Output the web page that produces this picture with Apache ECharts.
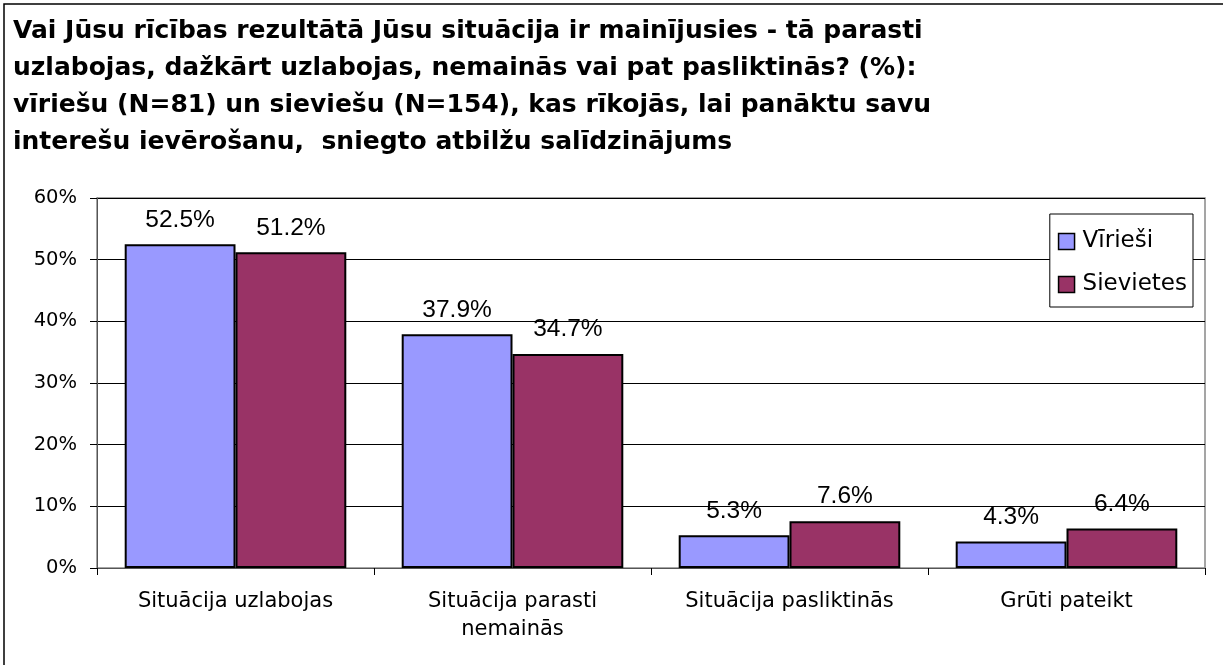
<!DOCTYPE html>
<html>
<head>
<meta charset="utf-8">
<script src="https://cdn.jsdelivr.net/npm/echarts@6/dist/echarts.min.js"></script>
<style>
  html, body { margin: 0; padding: 0; background: #fff; }
  #chart { width: 1223px; height: 665px; }
</style>
</head>
<body>
<div id="chart"></div>
<script>
const categories = ['Situācija uzlabojas', 'Situācija parasti\nnemainās', 'Situācija pasliktinās', 'Grūti pateikt'];
const seriesNames = ['Vīrieši', 'Sievietes'];
const viriesi = [52.5, 37.9, 5.3, 4.3];
const sievietes = [51.2, 34.7, 7.6, 6.4];
const yTicks = [0, 10, 20, 30, 40, 50, 60];

const titleText = 'Vai Jūsu rīcības rezultātā Jūsu situācija ir mainījusies - tā parasti\n' +
  'uzlabojas, dažkārt uzlabojas, nemainās vai pat pasliktinās? (%):\n' +
  'vīriešu (N=81) un sieviešu (N=154), kas rīkojās, lai panāktu savu\n' +
  'interešu ievērošanu,  sniegto atbilžu salīdzinājums';

// oriģinālā teksts ir platāks par Arial, tāpēc DejaVu
const wideFont = 'DejaVu Sans, sans-serif';
const font = 'Liberation Sans, Arial, sans-serif';
const chart = echarts.init(document.getElementById('chart'));

function barSeries(name, data, color) {
  return {
    name: name,
    type: 'bar',
    data: data,
    barGap: '0%',
    barCategoryGap: '20%',
    itemStyle: { color: color, borderColor: '#000', borderWidth: 2 },
    label: {
      show: true,
      position: 'top',
      distance: 12,
      color: '#000',
      fontFamily: font,
      fontSize: 24.5,
      formatter: p => p.value.toFixed(1) + '%'
    }
  };
}

chart.setOption({
  animation: false,
  backgroundColor: '#fff',
  title: {
    text: titleText,
    left: 8,
    top: 8,
    textStyle: {
      fontFamily: wideFont,
      fontSize: 25,
      fontWeight: 'bold',
      color: '#000',
      lineHeight: 37
    }
  },
  graphic: [
    {
      type: 'rect',
      shape: { x: 4, y: 4, width: 1400, height: 800 },
      style: { fill: null, stroke: '#000', lineWidth: 1.5 },
      silent: true
    }
  ],
  legend: {
    data: seriesNames,
    orient: 'vertical',
    right: 30,
    top: 214,
    icon: 'rect',
    itemWidth: 16,
    itemHeight: 16,
    itemGap: 20,
    padding: [16, 6, 11, 8],
    borderColor: '#000',
    borderWidth: 1,
    backgroundColor: '#fff',
    textStyle: { fontFamily: wideFont, fontSize: 23, color: '#000', padding: [0, 0, 0, 3] },
    itemStyle: { borderColor: '#000', borderWidth: 1.5 }
  },
  grid: {
    left: 97,
    right: 18,
    top: 198,
    bottom: 97,
    show: true,
    borderColor: '#888',
    borderWidth: 1.5
  },
  xAxis: {
    type: 'category',
    data: categories,
    axisLine: { lineStyle: { color: '#555', width: 1 } },
    axisTick: { show: true, length: 7, lineStyle: { color: '#000' } },
    axisLabel: {
      fontFamily: wideFont,
      fontSize: 21,
      color: '#000',
      margin: 20,
      lineHeight: 28
    }
  },
  yAxis: {
    type: 'value',
    min: yTicks[0],
    max: yTicks[yTicks.length - 1],
    interval: 10,
    axisLine: { show: true, lineStyle: { color: '#555', width: 1 } },
    axisTick: { show: true, length: 7, lineStyle: { color: '#000' } },
    axisLabel: {
      fontFamily: wideFont,
      fontSize: 19.5,
      color: '#000',
      margin: 20,
      formatter: v => v + '%'
    },
    splitLine: { show: true, lineStyle: { color: '#000', width: 1 } }
  },
  series: [
    barSeries(seriesNames[0], viriesi, '#9999FF'),
    barSeries(seriesNames[1], sievietes, '#993366')
  ]
});
</script>
</body>
</html>
